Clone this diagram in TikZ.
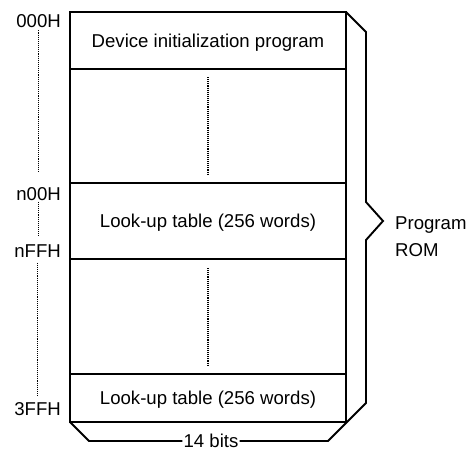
\documentclass[tikz,border=0pt]{standalone}
\usepackage{fontspec}
\setmainfont{Liberation Sans}
\usetikzlibrary{positioning,calc}
\tikzset{
  block/.style={draw, line width=1.9pt, minimum width=276pt, inner sep=0pt, outer sep=0pt, text height=13.3pt, text depth=0pt},
  addr/.style={anchor=east, inner sep=1pt, text height=13.3pt, text depth=0pt},
  dots/.style={line width=1.1pt, dash pattern=on 1.1pt off 1pt},
  brace/.style={line width=1.9pt, line join=miter},
}

\begin{document}
\begin{tikzpicture}[x=1pt, y=-1pt, font=\fontsize{18.6}{26.3}\selectfont]
  \useasboundingbox (0,0) rectangle (469,451);
  % memory map
  \node[block, minimum height=57pt, anchor=north west] (init) at (70,12) {Device initialization program};
  \node[block, minimum height=114pt, below=0pt of init] (free1) {};
  \node[block, minimum height=76pt, below=0pt of free1] (lut) {Look-up table (256 words)};
  \node[block, minimum height=115pt, below=0pt of lut] (free2) {};
  \node[block, minimum height=48pt, below=0pt of free2] (lutend) {Look-up table (256 words)};
  \draw[dots] ($(free1.north)+(0,8)$) -- ($(free1.south)+(0,-9)$);
  \draw[dots] ($(free2.north)+(0,9)$) -- ($(free2.south)+(0,-9)$);
  % addresses
  \node[addr] (a000) at (62,20.5) {000H};
  \node[addr] (an00) at (62,194) {n00H};
  \node[addr] (anff) at (62,251) {nFFH};
  \node[addr] (a3ff) at (62,409) {3FFH};
  \draw[dots, shorten <=2pt, shorten >=14pt] (a000) -- (an00);
  \draw[dots, shorten >=7pt] (an00.south) -- (an00.south |- anff.north);
  \draw[dots, shorten <=4pt, shorten >=4pt] (anff.south) -- (anff.south |- a3ff.north);
  % brace and width
  \node[inner sep=0pt, anchor=north west, align=left] (rom) at ($(lut.east)+(49,-4.3)$) {Program\\ROM};
  \node[inner sep=1pt, text height=13.3pt, text depth=0pt] (bits) at (211,441) {14 bits};
  \draw[brace] (init.north east) -- ++(20,20) -- ($(lut.east)+(20,-19)$) -- ($(lut.east)+(37,0)$)
    -- ($(lut.east)+(20,19)$) -- ($(lutend.south east)+(20,-19)$) -- ($(lutend.south east)+(-18,19)$) -- (bits);
  \draw[brace] (lutend.south west) -- ++(19,19) -- (bits);
\end{tikzpicture}
\end{document}
